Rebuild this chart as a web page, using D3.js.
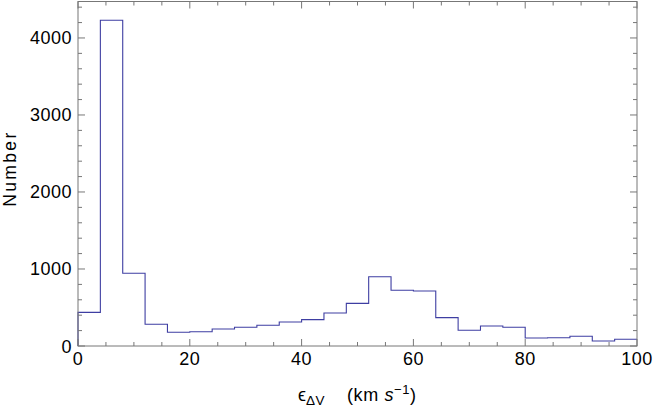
<!DOCTYPE html>
<html><head><meta charset="utf-8">
<script src="https://cdn.jsdelivr.net/npm/d3@7"></script>
<style>body{margin:0;background:#fff}svg{display:block}text{font-family:"Liberation Sans",Arial,sans-serif;fill:#000}</style>
</head><body>
<script>
const binEdges = [0,4,8,12,16,20,24,28,32,36,40,44,48,52,56,60,64,68,72,76,80,84,88,92,96,100];
const counts = [437,4230,944,282,178,186,221,243,269,312,342,429,554,900,723,714,368,204,260,243,104,108,126,65,87];
const xTicks = [0,20,40,60,80,100];
const yTicks = [0,1000,2000,3000,4000];

const W=654,H=407;
const m={l:78,r:17,t:1,b:61};
const svg=d3.select("body").append("svg").attr("width",W).attr("height",H);
const x=d3.scaleLinear().domain([0,100]).range([m.l,W-m.r]);
const y=d3.scaleLinear().domain([0,4480]).range([H-m.b,m.t]);
const frame="#777";
const g=svg.append("g");

// step path
const pts=[[0,0]];
counts.forEach((c,i)=>{pts.push([binEdges[i],c]);pts.push([binEdges[i+1],c]);});
g.append("path").attr("d",d3.line().x(d=>x(d[0])).y(d=>y(d[1]))(pts))
 .attr("fill","none").attr("stroke","#3e3ea2").attr("stroke-width",1.1);

// frame
const x0=x(0),x1=x(100),y0=y(0),y1=m.t+0.5;
g.append("rect").attr("x",x0).attr("y",y1).attr("width",x1-x0).attr("height",y0-y1)
 .attr("fill","none").attr("stroke",frame).attr("stroke-width",1);

// ticks
const xMinor=d3.range(0,101,5), yMinor=d3.range(0,4481,200);
xMinor.forEach(v=>{const major=v%20===0;const L=major?7:4;
  g.append("line").attr("x1",x(v)).attr("x2",x(v)).attr("y1",y0).attr("y2",y0-L).attr("stroke",frame);
  g.append("line").attr("x1",x(v)).attr("x2",x(v)).attr("y1",y1).attr("y2",y1+L).attr("stroke",frame);
});
yMinor.forEach(v=>{const major=v%1000===0;const L=major?7:4;
  g.append("line").attr("y1",y(v)).attr("y2",y(v)).attr("x1",x0).attr("x2",x0+L).attr("stroke",frame);
  g.append("line").attr("y1",y(v)).attr("y2",y(v)).attr("x1",x1).attr("x2",x1-L).attr("stroke",frame);
});

// labels
xTicks.forEach(v=>g.append("text").attr("x",x(v)).attr("y",y0+19).attr("text-anchor","middle")
  .attr("font-size",18).attr("letter-spacing",0.5).text(v));
yTicks.forEach(v=>g.append("text").attr("x",x0-6).attr("y",y(v)+6.5).attr("text-anchor","end")
  .attr("font-size",18).attr("letter-spacing",0.5).text(v));

svg.append("text").attr("transform",`translate(15.5,${(y0+y1)/2-4}) rotate(-90)`).attr("text-anchor","middle")
  .attr("font-size",17.5).attr("textLength",74).attr("lengthAdjust","spacing").text("Number");

const xl=svg.append("text").attr("x",298).attr("y",401).attr("text-anchor","start").attr("font-size",18);
xl.append("tspan").text("\u03F5");
xl.append("tspan").attr("font-size",13.5).attr("dy",3.5).attr("letter-spacing",0.5).text("\u0394V");
const xu=svg.append("text").attr("x",347).attr("y",401).attr("text-anchor","start").attr("font-size",18).attr("letter-spacing",0.6);
xu.append("tspan").attr("xml:space","preserve").text("(km ");
xu.append("tspan").attr("font-style","italic").text("s");
xu.append("tspan").attr("font-size",13).attr("dy",-7).text("\u22121");
xu.append("tspan").attr("dy",7).text(")");
</script>
</body></html>
